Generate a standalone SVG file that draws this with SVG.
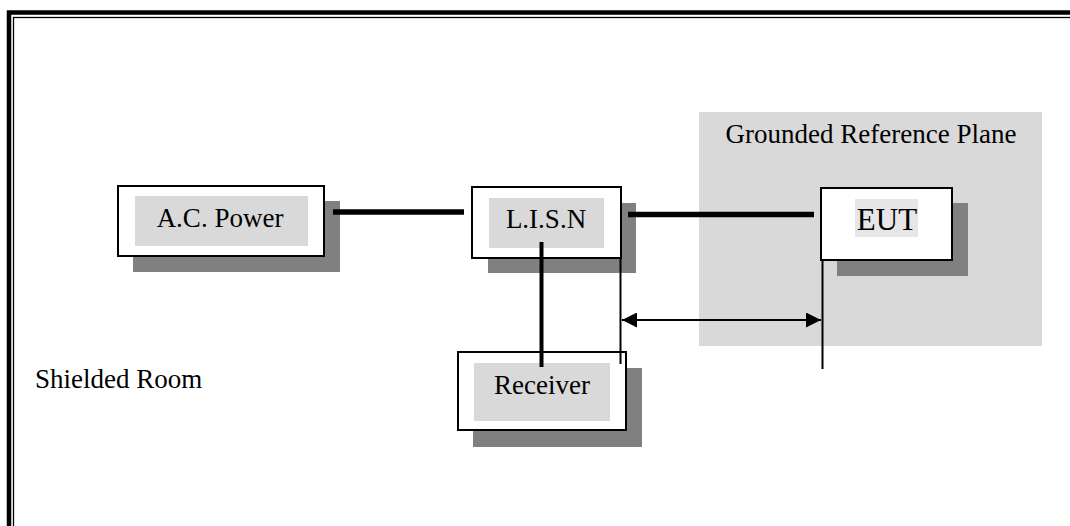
<svg xmlns="http://www.w3.org/2000/svg" width="1070" height="526" viewBox="0 0 1070 526">
  <defs>
    <style>
      .lbl { font-family: 'Liberation Serif', 'Times New Roman', serif; font-size: 27px; fill: #000; }
      .box { fill: #fff; stroke: #000; stroke-width: 2; }
      .shadow { fill: #808080; }
      .inner { fill: #d9d9d9; }
      .thick { stroke: #000; stroke-width: 5.5; fill: none; }
      .thin { stroke: #000; stroke-width: 2; fill: none; }
    </style>
    <marker id="ah" viewBox="0 0 10 10" refX="10" refY="5" markerWidth="7.5" markerHeight="7.5" markerUnits="strokeWidth" orient="auto-start-reverse">
      <path d="M0,0 L10,5 L0,10 Z" fill="#000"/>
    </marker>
  </defs>
  <rect width="1070" height="526" fill="#fff"/>
  <g id="frame">
    <rect x="9" y="12.5" width="1100" height="560" fill="none" stroke="#000" stroke-width="4.5"/>
    <rect x="13.5" y="17.5" width="1100" height="560" fill="none" stroke="#000" stroke-width="1.3"/>
  </g>
  <g id="plane">
    <rect x="699" y="112" width="343" height="234" fill="#d9d9d9"/>
    <text class="lbl" font-family="Liberation Serif, serif" x="871" y="143" text-anchor="middle">Grounded Reference Plane</text>
  </g>
  <text id="shielded-room" class="lbl" font-family="Liberation Serif, serif" x="35" y="388">Shielded Room</text>
  <g id="ac-power">
    <rect class="shadow" x="133" y="201" width="207" height="71"/>
    <rect class="box" x="118" y="186" width="206" height="70"/>
    <rect class="inner" x="135" y="196" width="173" height="50"/>
    <text class="lbl" font-family="Liberation Serif, serif" x="220" y="227" text-anchor="middle">A.C. Power</text>
  </g>
  <g id="lisn">
    <rect class="shadow" x="488" y="203" width="148" height="70"/>
    <rect class="box" x="472" y="187" width="149" height="71"/>
    <rect class="inner" x="489" y="198" width="115" height="50"/>
    <text class="lbl" font-family="Liberation Serif, serif" x="546" y="228" text-anchor="middle">L.I.S.N</text>
  </g>
  <g id="receiver">
    <rect class="shadow" x="473" y="368" width="169" height="79"/>
    <rect class="box" x="458" y="352" width="168" height="78"/>
    <rect class="inner" x="474" y="363" width="136" height="58"/>
    <text class="lbl" font-family="Liberation Serif, serif" x="542" y="394" text-anchor="middle">Receiver</text>
  </g>
  <g id="eut">
    <rect class="shadow" x="837" y="203" width="131" height="73"/>
    <rect class="box" x="821" y="188" width="131" height="72"/>
    <rect x="855" y="199" width="63" height="38" fill="#e6e6e6"/>
    <text class="lbl" font-family="Liberation Serif, serif" x="887" y="230" text-anchor="middle" style="font-size:31px">EUT</text>
  </g>
  <g id="connectors">
    <line class="thick" x1="333" y1="212" x2="464" y2="212"/>
    <line class="thick" x1="628" y1="214.5" x2="814" y2="214.5"/>
    <line x1="541.5" y1="242" x2="541.5" y2="367" stroke="#000" stroke-width="4"/>
    <line class="thin" x1="620.5" y1="258" x2="620.5" y2="364"/>
    <line class="thin" x1="822.5" y1="260" x2="822.5" y2="369"/>
    <line class="thin" x1="622" y1="320" x2="821" y2="320" marker-start="url(#ah)" marker-end="url(#ah)"/>
  </g>
</svg>
